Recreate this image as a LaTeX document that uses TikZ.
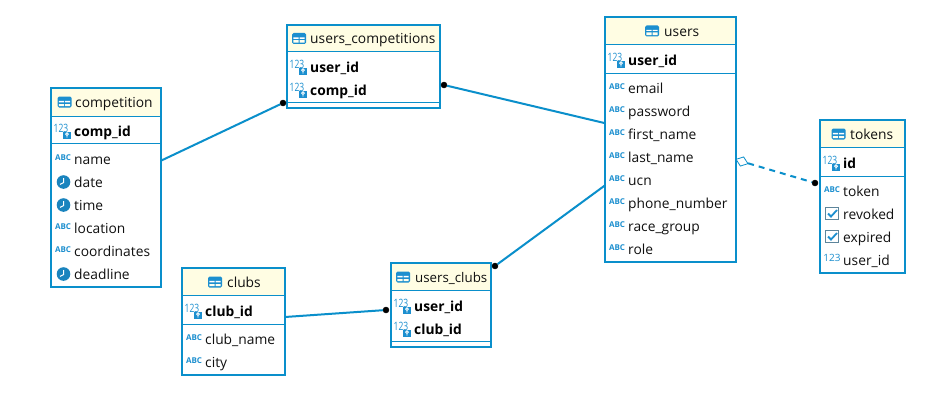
\documentclass[tikz,border=0pt]{standalone}
\usepackage{fontspec}
\setmainfont{Open Sans}
\newfontfamily\icfont[FakeStretch=0.74]{Open Sans}
\usetikzlibrary{calc,shapes.geometric}
\definecolor{er}{HTML}{0A8FCB}
\definecolor{hd}{HTML}{FFFDE3}
\definecolor{ic}{HTML}{1C8FCF}
\definecolor{txt}{HTML}{101010}
\tikzset{
  tbl/.style={draw=er,line width=2pt,fill=white,inner sep=0pt,outer sep=0pt},
  sep/.style={draw=er,line width=1pt},
  lbl/.style={anchor=base west,inner sep=0pt,text=txt,font=\fontsize{13.8}{15}\selectfont},
  bold/.style={font=\fontsize{13.8}{15}\selectfont\bfseries,text=black},
  conn/.style={draw=er,line width=2pt},
  enddot/.style={circle,fill=black,draw=black,minimum size=6pt,inner sep=0pt},
  opend/.style={diamond,aspect=1.2,draw=er,fill=white,line width=0.8pt,minimum width=13pt,minimum height=10pt,inner sep=0pt,rotate=-20},
  tinypk/.style={inner sep=0pt,text=ic,font=\fontsize{11.5}{11.5}\icfont},
  tinytxt/.style={inner sep=0pt,text=ic,font=\fontsize{10}{10}\selectfont},
  tinybold/.style={inner sep=0pt,text=ic,font=\fontsize{8}{8}\selectfont\bfseries},
  icontable/.pic={
    \fill[ic,rounded corners=1.5pt] (-7,-5.5) rectangle (7,5.5);
    \fill[white] (-5.6,-1.2) rectangle (-0.5,0.4) (0.5,-1.2) rectangle (5.6,0.4);
    \fill[hd!60!white] (-5.6,1.4) rectangle (-0.5,4.1) (0.5,1.4) rectangle (5.6,4.1);
    \draw[ic,line width=0.8pt] (-6.6,0.9) -- (6.6,0.9);
  },
  iconpk/.pic={
    \node[tinypk] (pkn-\pgfkeysvalueof{/tikz/icname}) at (-1,-1.5) {123};
    \fill[ic] (1,2) rectangle (9,8.5);
    \draw[white,line width=0.9pt] (5,4.2) circle (1.4) (5,5.6) -- (5,7.6);
  },
  iconnum/.pic={
    \node[tinytxt] (numn-\pgfkeysvalueof{/tikz/icname}) at (1,-1) {123};
  },
  iconabc/.pic={
    \node[tinybold] (abcn-\pgfkeysvalueof{/tikz/icname}) at (1,0) {ABC};
  },
  iconclock/.pic={
    \fill[ic!92!black] (1.5,1) circle (6.8);
    \draw[white,line width=1pt] (1.7,-3) -- (1.7,1.5) -- (-2,3.4);
  },
  iconcheck/.pic={
    \draw[gray!65!ic,line width=1.1pt,fill=white] (-5.5,-5.8) rectangle (7.5,6.8);
    \draw[ic,line width=1.8pt] (-3,0.5) -- (0,3.5) -- (6,-3);
  },
  icname/.initial={x}
}
\newcommand{\tblbox}[7]{%
  \node[tbl,minimum width={#4-#2},minimum height={#5-#3},anchor=north west] (#1) at (#2,#3) {};
  \fill[hd] (#2+1,#3+1) rectangle (#4-1,#6);
  \draw[sep] (#2,#6) -- (#4,#6);
  \draw[sep] (#2,#7) -- (#4,#7);
}
\newcommand{\thead}[5]{%
  \pic[icname=#1] at (#2,#4) {icontable};
  \node[lbl] (#1-title) at (#3,#4+5.2) {#5};
}
\newcommand{\trow}[6][]{%
  \pic[icname=#2] at (#3+11,#4-1) {#5};
  \node[lbl,#1] (#2) at (#3+23,#4+5.2) {#6};
}
\begin{document}
\begin{tikzpicture}[x=1pt,y=-1pt]
\useasboundingbox[fill=white] (0,0) rectangle (947,412);

% competition
\tblbox{competition}{51}{88}{161}{287}{116}{143}
\thead{competition}{64.5}{75}{102}{competition}
\trow[bold]{cid}{51}{131}{iconpk}{comp\_id}
\trow{cname}{51}{159}{iconabc}{name}
\trow{cdate}{51}{182}{iconclock}{date}
\trow{ctime}{51}{205}{iconclock}{time}
\trow{cloc}{51}{228}{iconabc}{location}
\trow{ccoord}{51}{251}{iconabc}{coordinates}
\trow{cdead}{51}{274}{iconclock}{deadline}

% users_competitions
\tblbox{ucomp}{287}{25}{440}{108}{52}{102}
\thead{ucomp}{299}{310}{38.5}{users\_competitions}
\trow[bold]{ucuid}{287}{67}{iconpk}{user\_id}
\trow[bold]{uccid}{287}{90}{iconpk}{comp\_id}

% users
\tblbox{users}{605}{17}{736}{262}{45}{73}
\thead{users}{652}{664}{31}{users}
\trow[bold]{uid}{605}{60}{iconpk}{user\_id}
\trow{uemail}{605}{88}{iconabc}{email}
\trow{upass}{605}{111}{iconabc}{password}
\trow{ufirst}{605}{134}{iconabc}{first\_name}
\trow{ulast}{605}{157}{iconabc}{last\_name}
\trow{uucn}{605}{180}{iconabc}{ucn}
\trow{uphone}{605}{203}{iconabc}{phone\_number}
\trow{urace}{605}{226}{iconabc}{race\_group}
\trow{urole}{605}{249}{iconabc}{role}

% tokens
\tblbox{tokens}{820}{120}{905}{273}{147}{176}
\thead{tokens}{838.5}{850}{134}{tokens}
\trow[bold]{tid}{820}{163}{iconpk}{id}
\trow{ttoken}{820}{191}{iconabc}{token}
\trow{trev}{820}{214}{iconcheck}{revoked}
\trow{texp}{820}{237}{iconcheck}{expired}
\trow{tuid}{820}{260}{iconnum}{user\_id}

% clubs
\tblbox{clubs}{182}{268}{285}{375}{295}{324}
\thead{clubs}{215}{227}{282}{clubs}
\trow[bold]{clid}{182}{311}{iconpk}{club\_id}
\trow{clname}{182}{339}{iconabc}{club\_name}
\trow{clcity}{182}{362}{iconabc}{city}

% users_clubs
\tblbox{uclubs}{391}{263}{491}{347}{290}{341}
\thead{uclubs}{403}{415}{277}{\fontsize{13.3}{15}\selectfont users\_clubs}
\trow[bold]{ucluid}{391}{306}{iconpk}{user\_id}
\trow[bold]{uclcid}{391}{329}{iconpk}{club\_id}

% connector ends
\node[enddot] (d1) at (283,103) {};
\node[enddot] (d2) at (444,85) {};
\node[enddot] (d3) at (495,266) {};
\node[enddot] (d4) at (386,310) {};
\node[enddot] (d5) at (815,183) {};
\node[opend] (o1) at (742,161.5) {};

\draw[conn] (competition.26.57) -- (d1);
\draw[conn] (d2) -- (users.166.7);
\draw[conn] (users.215.95) -- (d3);
\draw[conn] (clubs.5) -- (d4);
\draw[conn,dash pattern=on 6pt off 5pt] (o1) -- (d5);
\end{tikzpicture}
\end{document}
